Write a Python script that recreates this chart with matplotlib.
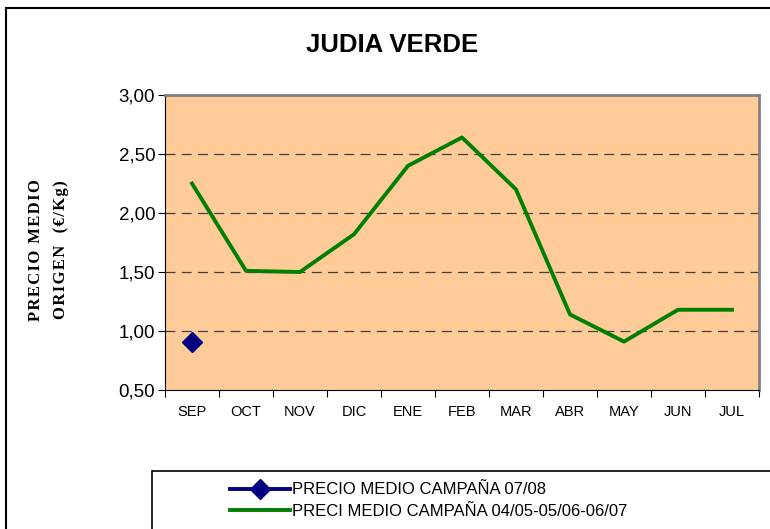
import numpy as np
import matplotlib
matplotlib.use("Agg")
import matplotlib.pyplot as plt
from matplotlib.patches import Rectangle

# data
months = ['SEP', 'OCT', 'NOV', 'DIC', 'ENE', 'FEB', 'MAR', 'ABR', 'MAY', 'JUN', 'JUL']
precio_0708 = [0.91]  # only SEP
precio_medio = [2.25, 1.51, 1.50, 1.82, 2.40, 2.64, 2.20, 1.14, 0.91, 1.18, 1.18]
yticks = [0.5, 1.0, 1.5, 2.0, 2.5, 3.0]
ytick_labels = ['0,50', '1,00', '1,50', '2,00', '2,50', '3,00']

plt.rcParams['font.family'] = ['Liberation Sans', 'DejaVu Sans']

fig = plt.figure(figsize=(7.7, 5.29), dpi=100)
ax = fig.add_axes([165/770, 139/529, 594/770, 295/529])
ax.set_facecolor('#FFCC99')

x = np.arange(len(months))
l2, = ax.plot(x, precio_medio, color='#008000', lw=2.8,
              label='PRECI MEDIO CAMPAÑA 04/05-05/06-06/07')
l1, = ax.plot(x[:len(precio_0708)], precio_0708, color='#000080', lw=2.8,
              marker='D', ms=10, label='PRECIO MEDIO CAMPAÑA 07/08')

ax.set_xlim(-0.5, len(months) - 0.5)
ax.set_ylim(0.5, 3.0)
ax.set_yticks(yticks)
ax.set_yticklabels(ytick_labels, fontsize=13.5)
ax.set_xticks(np.arange(-0.5, len(months), 1.0))
ax.set_xticklabels([])
ax.set_xticks(x, minor=True)
ax.set_xticklabels(months, minor=True, fontsize=10.5)
ax.tick_params(axis='x', which='minor', length=0, pad=11)
ax.tick_params(axis='x', which='major', length=5, direction='out')
ax.tick_params(axis='y', length=5, direction='out', pad=2)

for v in yticks[1:-1]:
    ax.axhline(v, color='#404040', lw=0.9, ls=(0, (8, 5)), zorder=1)

ax.spines['top'].set_color('#808080')
ax.spines['right'].set_color('#808080')
ax.spines['top'].set_linewidth(2)
ax.spines['right'].set_linewidth(2)

sp = '\u200a'
ylab = sp.join('PRECIO MEDIO') + '\n' + sp.join('ORIGEN  (€/Kg)')
ax.set_ylabel(ylab, family=['Liberation Serif', 'DejaVu Serif'],
              fontweight='bold', fontsize=12, linespacing=1.75)
ax.yaxis.set_label_coords(-0.162, 0.475)

fig.text(392/770, 1 - 45/529, 'JUDIA VERDE', ha='center', va='center',
         fontsize=18.5, fontweight='bold')

# outer frame
fig.patches.append(Rectangle((6/770, -0.1), 1.2, 1 - 8/529 + 0.1,
                             transform=fig.transFigure, fill=False,
                             ec='black', lw=1.5))
# legend frame
fig.patches.append(Rectangle((152/770, -0.1), 1.2, (529 - 471)/529 + 0.1,
                             transform=fig.transFigure, fill=False,
                             ec='black', lw=1.2))
fig.legend(handles=[l1, l2], loc='upper left',
           bbox_to_anchor=(222/770, 1 - 474/529), frameon=False,
           fontsize=12, handlelength=3.6, handletextpad=0.1,
           labelspacing=0.4, borderpad=0)

fig.savefig('out.png', dpi=100)
